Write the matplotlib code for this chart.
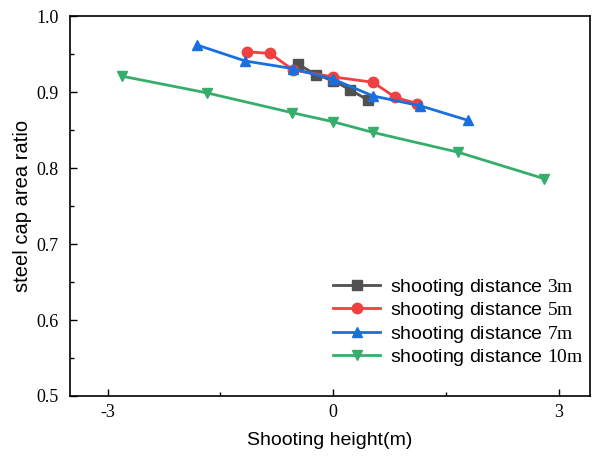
import numpy as np
import matplotlib.pyplot as plt
from matplotlib.ticker import MultipleLocator

plt.rcParams['mathtext.fontset'] = 'custom'
plt.rcParams['mathtext.rm'] = 'Liberation Serif'

# Data
x_3m = [-0.47, -0.23, 0.0, 0.23, 0.47]
y_3m = [0.937, 0.923, 0.915, 0.903, 0.889]

x_5m = [-1.14, -0.84, -0.53, 0.0, 0.53, 0.83, 1.12]
y_5m = [0.953, 0.951, 0.929, 0.920, 0.913, 0.893, 0.885]

x_7m = [-1.81, -1.17, -0.54, 0.0, 0.53, 1.16, 1.79]
y_7m = [0.962, 0.941, 0.931, 0.917, 0.895, 0.882, 0.863]

x_10m = [-2.81, -1.68, -0.55, 0.0, 0.53, 1.66, 2.81]
y_10m = [0.921, 0.899, 0.873, 0.861, 0.847, 0.821, 0.786]

labels = ['shooting distance $\\mathrm{3m}$', 'shooting distance $\\mathrm{5m}$',
          'shooting distance $\\mathrm{7m}$', 'shooting distance $\\mathrm{10m}$']
colors = ['#515151', '#F14040', '#1A6FDF', '#37AD6B']
markers = ['s', 'o', '^', 'v']

fig = plt.figure(figsize=(6.04, 4.61), dpi=100)
ax = fig.add_axes([0.116, 0.141, 0.861, 0.824])

series = [(x_3m, y_3m), (x_5m, y_5m), (x_7m, y_7m), (x_10m, y_10m)]
for (xs, ys), lab, c, m in zip(series, labels, colors, markers):
    ax.plot(xs, ys, color=c, marker=m, markersize=7.5, linewidth=2, label=lab)

ax.set_xlim(-3.5, 3.42)
ax.set_ylim(0.5, 1.0)
ax.xaxis.set_major_locator(MultipleLocator(3))
ax.xaxis.set_minor_locator(MultipleLocator(1.5))
ax.yaxis.set_major_locator(MultipleLocator(0.1))
ax.yaxis.set_minor_locator(MultipleLocator(0.05))
ax.tick_params(which='both', direction='in', top=False, right=False)
ax.tick_params(which='major', length=5, width=1, labelsize=13)
ax.tick_params(which='minor', length=3, width=1)
ax.tick_params(axis='x', pad=6)
ax.tick_params(axis='y', pad=8)
ax.set_xticks([-3, 0, 3])
ax.set_xticklabels(['-3', '0', '3'], fontfamily='Liberation Serif', fontsize=13)
ax.set_yticks([0.5, 0.6, 0.7, 0.8, 0.9, 1.0])
ax.set_yticklabels(['0.5', '0.6', '0.7', '0.8', '0.9', '1.0'], fontfamily='Liberation Serif', fontsize=13)
for s in ax.spines.values():
    s.set_linewidth(1.2)

ax.set_xlabel('Shooting height(m)', fontfamily='Liberation Sans', fontsize=14, labelpad=8)
ax.set_ylabel('steel cap area ratio', fontfamily='Liberation Sans', fontsize=14.5, labelpad=3)

ax.legend(loc='lower right', frameon=False, prop={'family': 'Liberation Sans', 'size': 14},
          handlelength=2.4, borderaxespad=0.3, labelspacing=0.12, handletextpad=0.5,
          bbox_to_anchor=(1.013, 0.038))

fig.savefig('out.png', dpi=100)
